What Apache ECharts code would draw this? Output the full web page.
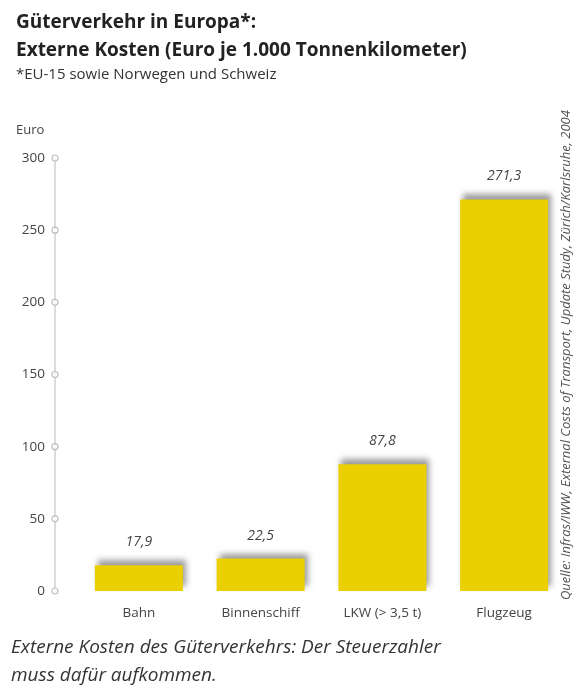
<!DOCTYPE html>
<html><head><meta charset="utf-8">
<script src="https://cdn.jsdelivr.net/npm/echarts@6/dist/echarts.min.js"></script>
<style>html,body{margin:0;padding:0;background:#fff}#c{width:575px;height:685px}</style>
</head><body><div id="c"></div>
<script>
var categories = ['Bahn', 'Binnenschiff', 'LKW (> 3,5 t)', 'Flugzeug'];
var values = [17.9, 22.5, 87.8, 271.3];
var yTicks = [0, 50, 100, 150, 200, 250, 300];

var chart = echarts.init(document.getElementById('c'));
var gridTop = 158, gridBottom = 685 - 591;
var font = '"Open Sans", "Noto Sans", sans-serif';
chart.setOption({
  backgroundColor: '#fff',
  textStyle: { fontFamily: font },
  title: [
    { text: 'Güterverkehr in Europa*:', left: 11, top: 8,
      textStyle: { fontSize: 19, fontWeight: 'bold', color: '#222', fontFamily: font } },
    { text: 'Externe Kosten (Euro je 1.000 Tonnenkilometer)', left: 11, top: 36,
      textStyle: { fontSize: 19, fontWeight: 'bold', color: '#222', fontFamily: font } },
    { text: '*EU-15 sowie Norwegen und Schweiz', left: 11, top: 62,
      textStyle: { fontSize: 15, fontWeight: 'normal', color: '#333', fontFamily: font } },
    { text: 'Euro', left: 11, top: 119,
      textStyle: { fontSize: 13, fontWeight: 'normal', color: '#444', fontFamily: font } }
  ],
  graphic: [
    { type: 'text', left: 11, top: 634,
      style: { text: 'Externe Kosten des Güterverkehrs: Der Steuerzahler\nmuss dafür aufkommen.',
        font: 'italic 19px ' + font, fill: '#333', lineHeight: 28 } },
    { type: 'text', x: 573, y: 600, rotation: Math.PI / 2,
      style: { text: 'Quelle: Infras/IWW, External Costs of Transport, Update Study, Zürich/Karlsruhe, 2004',
        font: 'italic 13px ' + font, fill: '#555', align: 'left', verticalAlign: 'bottom' } }
  ],
  grid: [
    { left: 78, right: 10, top: gridTop, bottom: gridBottom },
    { left: 50, width: 10, top: gridTop, bottom: gridBottom }
  ],
  xAxis: [
    { type: 'category', data: categories, gridIndex: 0,
      axisLine: { show: false }, axisTick: { show: false },
      axisLabel: { color: '#444', fontSize: 13.5, margin: 15, fontFamily: font } },
    { type: 'value', gridIndex: 1, min: -1, max: 1, show: false }
  ],
  yAxis: [
    { type: 'value', gridIndex: 0, min: 0, max: 300, interval: 50, show: false },
    { type: 'value', gridIndex: 1, min: 0, max: 300, interval: 50, position: 'left', offset: -5,
      axisLine: { show: true, lineStyle: { color: '#d0d0d0', width: 1.5 } },
      axisTick: { show: false }, splitLine: { show: false },
      axisLabel: { color: '#444', fontSize: 13.5, margin: 10, fontFamily: font } }
  ],
  series: [
    { type: 'bar', xAxisIndex: 0, yAxisIndex: 0, data: values, barWidth: 88,
      itemStyle: { color: '#EAD000', shadowColor: 'rgba(90,90,90,0.6)', shadowBlur: 6,
        shadowOffsetX: 3, shadowOffsetY: -5 },
      label: { show: true, position: 'top', distance: 16, fontStyle: 'italic',
        color: '#444', fontSize: 14, fontFamily: font,
        formatter: function (p) { return p.value.toFixed(1).replace('.', ','); } } },
    { type: 'scatter', xAxisIndex: 1, yAxisIndex: 1,
      data: yTicks.map(function (v) { return [0, v]; }),
      symbol: 'circle', symbolSize: 6, silent: true,
      itemStyle: { color: '#fff', borderColor: '#b0b0b0', borderWidth: 1.2 } }
  ]
});
</script></body></html>
